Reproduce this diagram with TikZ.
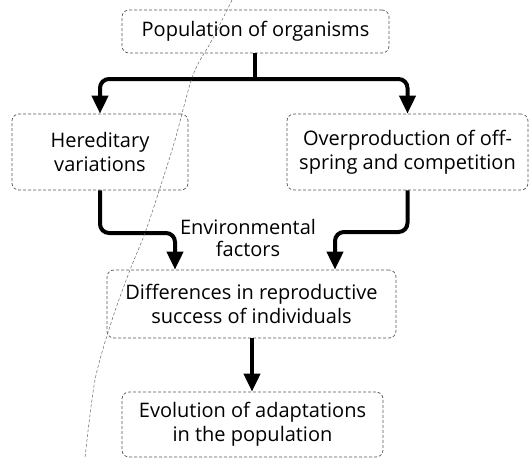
\documentclass[tikz,border=0pt]{standalone}
\usepackage{fontspec}
\setmainfont{Open Sans}
\usetikzlibrary{arrows.meta}
\begin{document}
\begin{tikzpicture}[x=1pt,y=-1pt,
  box/.style={draw=black!65, densely dashed, line width=0.7pt, rounded corners=7pt, align=center, inner sep=0pt, font=\fontsize{20}{24}\selectfont},
  flow/.style={line width=4pt, rounded corners=9pt, -{Triangle[width=16pt,length=18pt]}},
  lbl/.style={align=center, font=\fontsize{20}{22}\selectfont}]
\useasboundingbox (0,0) rectangle (530,458);
\node[box, minimum width=267pt, minimum height=43pt] (pop) at (255.5,31.5) {Population of organisms};
\node[box, minimum width=176pt, minimum height=76pt] (her) at (100,152) {Hereditary\\variations};
\node[box, minimum width=241pt, minimum height=76pt] (ovp) at (407.5,152) {Overproduction of off-\\spring and competition};
\node[box, minimum width=289pt, minimum height=68pt] (dif) at (251.5,304) {Differences in reproductive\\success of individuals};
\node[box, minimum width=261pt, minimum height=65pt] (evo) at (252.5,424.5) {Evolution of adaptations\\in the population};
\node[lbl] (env) at (248,238) {Environmental\\factors};
\coordinate (bar) at (255,79);
\draw[line width=4pt] (pop.south -| bar) -- (bar);
\draw[flow] (bar) -| (her.north);
\draw[flow] (bar) -| (ovp.north);
\draw[flow] (her.south) |- (175,233) -- (175,233 |- dif.north);
\draw[flow] (ovp.south) |- (335,232) -- (335,232 |- dif.north);
\draw[flow, rounded corners=0pt] (dif.south -| 252,0) -- (252,0 |- evo.north);
\draw[black!60, densely dashed, line width=0.5pt] plot[smooth] coordinates {(232,0) (212,40) (193,75) (175,140) (160,188) (145,233) (130,270) (112,320) (95,380) (85,458)};
\end{tikzpicture}
\end{document}
